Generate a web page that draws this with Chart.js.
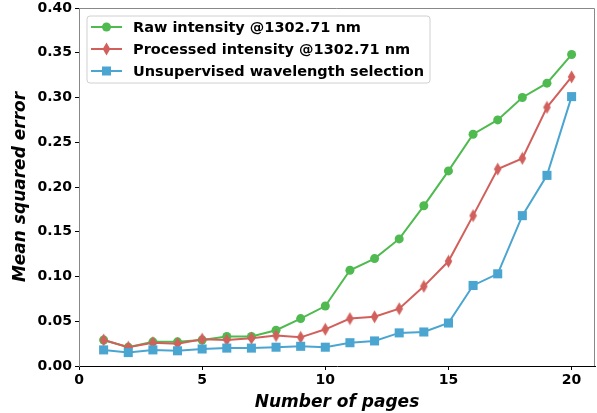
<!DOCTYPE html>
<html>
<head>
<meta charset="utf-8">
<script src="https://cdn.jsdelivr.net/npm/chart.js@4/dist/chart.umd.min.js"></script>
<style>
  html, body { margin: 0; padding: 0; background: #fff; }
  #wrap { width: 597px; height: 413px; }
</style>
</head>
<body>
<div id="wrap"><canvas id="mseChart" width="597" height="413"></canvas></div>
<script>
// Data
const pages = [1, 2, 3, 4, 5, 6, 7, 8, 9, 10, 11, 12, 13, 14, 15, 16, 17, 18, 19, 20];
const rawIntensity = [0.029, 0.021, 0.027, 0.027, 0.029, 0.033, 0.033, 0.040, 0.053, 0.067,
                      0.107, 0.120, 0.142, 0.179, 0.218, 0.259, 0.275, 0.300, 0.316, 0.348];
const processedIntensity = [0.029, 0.021, 0.026, 0.025, 0.030, 0.029, 0.031, 0.034, 0.032, 0.041,
                            0.053, 0.055, 0.064, 0.089, 0.117, 0.168, 0.220, 0.232, 0.289, 0.323];
const unsupervised = [0.018, 0.015, 0.018, 0.017, 0.019, 0.020, 0.020, 0.021, 0.022, 0.021,
                      0.026, 0.028, 0.037, 0.038, 0.048, 0.090, 0.103, 0.168, 0.213, 0.301];
const seriesLabels = ['Raw intensity @1302.71 nm', 'Processed intensity @1302.71 nm', 'Unsupervised wavelength selection'];
const xTicks = [0, 5, 10, 15, 20];

const GREEN = '#4fba4f';
const RED = '#d1605c';
const BLUE = '#4ba5d1';
const FONT = "'DejaVu Sans', sans-serif";

// thin diamond marker (matplotlib 'd')
function thinDiamond(color) {
    const c = document.createElement('canvas');
    c.width = 9; c.height = 14;
    const g = c.getContext('2d');
    g.fillStyle = color;
    g.beginPath();
    g.moveTo(4.5, 0.5);
    g.lineTo(8.3, 7);
    g.lineTo(4.5, 13.5);
    g.lineTo(0.7, 7);
    g.closePath();
    g.fill();
    return c;
}
const diamondImg = thinDiamond(RED);

function toPoints(ys) {
    return pages.map((x, i) => ({ x: x, y: ys[i] }));
}

// legend box drawn inside the plot, like matplotlib's
const boxLegend = {
    id: 'boxLegend',
    afterDraw(chart) {
        const ctx = chart.ctx;
        const left = 87, top = 16, w = 343, h = 67;
        ctx.save();
        ctx.beginPath();
        ctx.roundRect(left, top, w, h, 3);
        ctx.fillStyle = 'rgba(255,255,255,0.85)';
        ctx.fill();
        ctx.strokeStyle = '#d0d0d0';
        ctx.lineWidth = 1;
        ctx.stroke();
        const rows = [27, 49, 71];
        chart.data.datasets.slice().sort((a, b) => a.legendIndex - b.legendIndex).forEach((ds, i) => {
            const y = rows[i];
            ctx.strokeStyle = ds.borderColor;
            ctx.lineWidth = 2;
            ctx.beginPath();
            ctx.moveTo(91, y);
            ctx.lineTo(122, y);
            ctx.stroke();
            ctx.fillStyle = ds.pointBackgroundColor;
            if (ds.pointStyle === diamondImg) {
                ctx.drawImage(diamondImg, 106.5 - 4.5, y - 7);
            } else {
                ctx.beginPath();
                if (ds.pointStyle === 'circle') ctx.arc(106.5, y, ds.pointRadius, 0, Math.PI * 2);
                else ctx.rect(106.5 - 4.5, y - 4.5, 9, 9);
                ctx.fill();
            }
            ctx.fillStyle = '#000';
            ctx.font = 'bold 14.5px ' + FONT;
            ctx.textBaseline = 'middle';
            ctx.textAlign = 'left';
            ctx.fillText(ds.label, 133, y + 1);
        });
        ctx.restore();
    }
};

// grey top and right spines
const frame = {
    id: 'frame',
    beforeDatasetsDraw(chart) {
        const a = chart.chartArea, ctx = chart.ctx;
        ctx.save();
        ctx.strokeStyle = '#888';
        ctx.lineWidth = 1;
        ctx.beginPath();
        ctx.moveTo(a.left, a.top + 0.5);
        ctx.lineTo(a.right - 0.5, a.top + 0.5);
        ctx.lineTo(a.right - 0.5, a.bottom);
        ctx.stroke();
        ctx.restore();
    }
};

document.addEventListener('DOMContentLoaded', function () {
    const ctx = document.getElementById('mseChart');
    new Chart(ctx, {
        type: 'line',
        data: {
            datasets: [{
                label: seriesLabels[0],
                legendIndex: 0,
                data: toPoints(rawIntensity),
                borderColor: GREEN,
                backgroundColor: GREEN,
                pointBackgroundColor: GREEN,
                pointBorderWidth: 0,
                pointStyle: 'circle',
                pointRadius: 4.5,
                borderWidth: 2,
                order: 3
            }, {
                label: seriesLabels[1],
                legendIndex: 1,
                data: toPoints(processedIntensity),
                borderColor: RED,
                backgroundColor: RED,
                pointBackgroundColor: RED,
                pointBorderWidth: 0,
                pointStyle: diamondImg,
                pointRadius: 5,
                borderWidth: 2,
                order: 2
            }, {
                label: seriesLabels[2],
                legendIndex: 2,
                data: toPoints(unsupervised),
                borderColor: BLUE,
                backgroundColor: BLUE,
                pointBackgroundColor: BLUE,
                pointBorderWidth: 0,
                pointStyle: 'rect',
                pointRadius: 6.4,
                borderWidth: 2,
                order: 1
            }]
        },
        options: {
            responsive: false,
            animation: false,
            layout: { autoPadding: false, padding: { top: 8, right: 2, left: 0, bottom: 0 } },
            plugins: {
                legend: { display: false },
                tooltip: { enabled: false }
            },
            scales: {
                x: {
                    type: 'linear',
                    min: 0,
                    max: 20.95,
                    afterBuildTicks(axis) { axis.ticks = xTicks.map(v => ({ value: v })); },
                    afterFit(axis) {
                        axis.height = 47;
                        axis.paddingLeft = 0;
                        axis.paddingRight = 0;
                    },
                    ticks: {
                        color: '#000',
                        font: { family: FONT, size: 14, weight: 'bold' },
                        padding: 2,
                        maxRotation: 0
                    },
                    grid: { drawOnChartArea: false, drawTicks: true, tickLength: 4, color: '#000' },
                    border: { color: '#000', width: 1 },
                    title: {
                        display: true,
                        text: 'Number of pages',
                        color: '#000',
                        font: { family: FONT, size: 17, weight: 'bold', style: 'italic' },
                        padding: { top: 0, bottom: 0 }
                    }
                },
                y: {
                    min: 0,
                    max: 0.4,
                    afterFit(axis) {
                        axis.width = 79;
                        axis.paddingTop = 0;
                        axis.paddingBottom = 0;
                    },
                    ticks: {
                        stepSize: 0.05,
                        color: '#000',
                        font: { family: FONT, size: 14, weight: 'bold' },
                        padding: 3,
                        callback: v => v.toFixed(2)
                    },
                    grid: { drawOnChartArea: false, drawTicks: true, tickLength: 4, color: '#000' },
                    border: { color: '#888', width: 1 },
                    title: {
                        display: true,
                        text: 'Mean squared error',
                        color: '#000',
                        font: { family: FONT, size: 17, weight: 'bold', style: 'italic' },
                        padding: { top: 10, bottom: 0 }
                    }
                }
            }
        },
        plugins: [frame, boxLegend]
    });
});
</script>
</body>
</html>
